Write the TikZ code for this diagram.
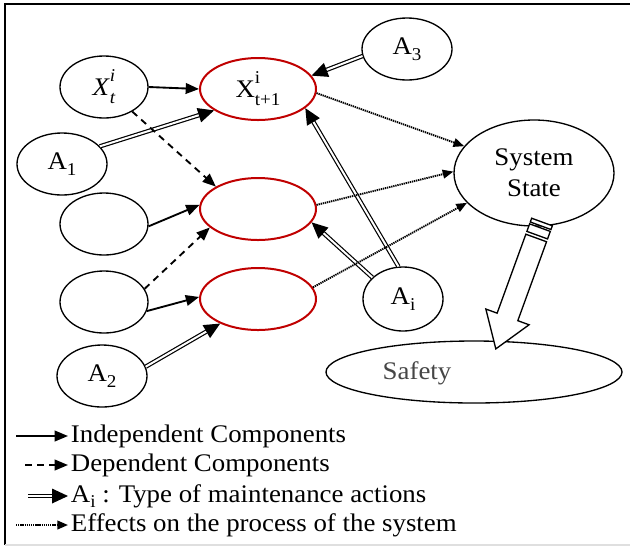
\documentclass[tikz,border=0pt]{standalone}
\usepackage{fontspec}
\setmainfont[FakeStretch=1.06]{Liberation Serif}
\usetikzlibrary{shapes.geometric,arrows.meta}
\definecolor{compred}{RGB}{192,0,0}
\definecolor{safegray}{RGB}{70,70,70}
\newcommand{\subsz}{\fontsize{13.5}{13.5}\selectfont}
\newcommand{\supsub}[2]{\makebox[0pt][l]{\raisebox{0.55em}{\subsz #1}}\raisebox{-0.32em}{\subsz #2}}
\newcommand{\Asub}[1]{A\raisebox{-0.22em}{\subsz #1}}
\begin{document}
\begin{tikzpicture}[x=0.75pt,y=-0.75pt,
  font=\fontsize{19}{23}\selectfont,
  comp/.style={ellipse,draw,line width=1pt,minimum width=66pt,minimum height=46.5pt,inner sep=0pt},
  act/.style={comp,minimum width=67.5pt},
  nextc/.style={comp,draw=compred,line width=1.5pt,minimum width=87pt},
  indep/.style={line width=1.4pt,-{Triangle[length=10pt,width=8pt]}},
  dep/.style={indep,dash pattern=on 5pt off 4pt},
  maint/.style={double,line width=0.9pt,double distance=1.5pt,-{Triangle[length=12pt,width=11pt]}},
  effect/.style={line width=1.4pt,dash pattern=on 1pt off 0.6pt,-{Triangle[length=8pt,width=6.5pt]}},
  legtext/.style={anchor=west,inner sep=2pt}]
\useasboundingbox (0,0) rectangle (630,547);
\draw[line width=1.5pt] (630,4) -- (5,4) -- (5,545);
\draw[gray!25,line width=0.8pt] (5,545) -- (630,545);

\node[comp] (xt) at (104,87) {\textit{X}\supsub{\textit{i}}{\textit{t}}};
\node[nextc] (xn) at (258,89) {X\supsub{i}{t+1}};
\node[act] (a1) at (62,164) {\Asub{1}};
\node[nextc] (xm) at (258,209) {};
\node[comp] (c1) at (104,224) {};
\node[comp] (c2) at (104,302) {};
\node[nextc] (xb) at (258,299) {};
\node[act] (a2) at (102,376) {\Asub{2}};
\node[act] (a3) at (407,49) {\Asub{3}};
\node[comp,minimum width=60pt,minimum height=48pt] (ai) at (403,299) {\Asub{i}};
\node[comp,minimum width=120pt,minimum height=79.5pt,align=center] (sys) at (534,173) {System\\State};
\node[comp,minimum width=222pt,minimum height=46.5pt,
  label={[text=safegray,xshift=-42.75pt,yshift=-1pt]center:Safety}] (safe) at (474,372) {};

\draw[indep] (xt.east) -- (xn.west);
\draw[maint] (a1.25) -- (xn.206);
\draw[dep] (xt.-41) -- (xm.152);
\draw[indep] (c1.-3) -- (xm.176);
\draw[dep] (c2.18) -- (xm.201);
\draw[indep] (c2.-12) -- (xb.178);
\draw[maint] (a2.12) -- (xb.213);
\draw[maint] (a3.189) -- (xn.14);
\draw[maint] (ai.98) -- (xn.-22);
\draw[maint] (ai.145) -- (xm.-14);
\draw[effect] (xn.-4) -- (sys.159);
\draw[effect] (xm.4) -- (sys.179);
\draw[effect] (xb.12) -- (sys.204);

\begin{scope}[shift={(542,222)},rotate=250,line width=1pt,fill=white]
\filldraw (0,-11) rectangle (4,11);
\filldraw (6,-11) rectangle (14,11);
\filldraw (17,-11) -- (101,-11) -- (101,-23) -- (135,0) -- (101,23) -- (101,11) -- (17,11) -- cycle;
\end{scope}

\node[legtext] (l1) at (68,436) {Independent Components};
\node[legtext] (l2) at (68,465) {Dependent Components};
\node[legtext] (l3) at (68,496) {\Asub{i} : Type of maintenance actions};
\node[legtext] (l4) at (68,525) {Effects on the process of the system};
\coordinate (s1) at (16,436);
\coordinate (s2) at (25,465);
\coordinate (s3) at (28,496);
\coordinate (s4) at (16,525);
\draw[indep] (s1) -- (l1.west);
\draw[dep] (s2) -- (l2.west);
\draw[maint] (s3) -- (l3.west);
\draw[effect] (s4) -- (l4.west);
\end{tikzpicture}
\end{document}
